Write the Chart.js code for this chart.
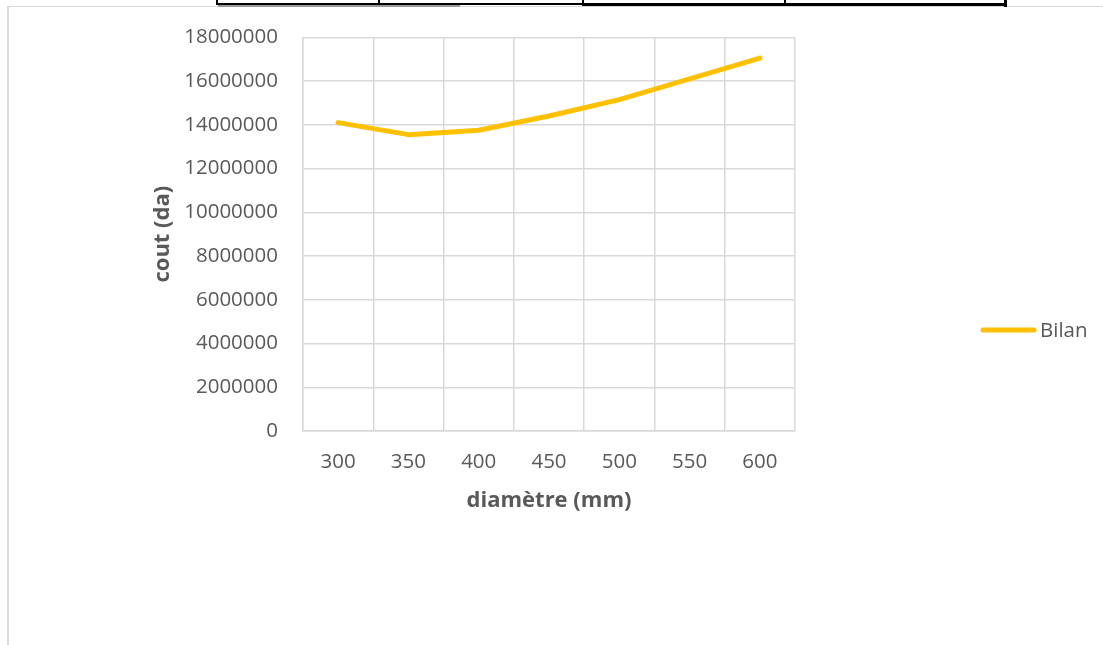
<!DOCTYPE html>
<html>
<head>
<meta charset="utf-8">
<script src="https://cdn.jsdelivr.net/npm/chart.js@4/dist/chart.umd.min.js"></script>
<style>
  html, body { margin: 0; padding: 0; background: #ffffff; }
  #wrap { position: relative; width: 1103px; height: 645px; overflow: hidden; }
  #chart { position: absolute; left: 0; top: 0; }
  .rule { position: absolute; }
</style>
</head>
<body>
<div id="wrap">
  <canvas id="chart" width="1103" height="645"></canvas>
  <!-- light frame around the chart object -->
  <div class="rule" style="left:7px; top:6px; width:1096px; height:1px; background:#d9d9d9;"></div>
  <div class="rule" style="left:7px; top:6px; width:2px; height:640px; background:#dcdcdc;"></div>
  <!-- bottom border of the table row above -->
  <div class="rule" style="left:217px; top:3px; width:366px; height:2px; background:#000;"></div>
  <div class="rule" style="left:583px; top:3px; width:424px; height:3px; background:#000;"></div>
  <div class="rule" style="left:218px; top:5px; width:242px; height:2px; background:#9a9a9a;"></div>
  <div class="rule" style="left:216px; top:0px; width:2px; height:5px; background:#000;"></div>
  <div class="rule" style="left:378px; top:0px; width:2px; height:5px; background:#000;"></div>
  <div class="rule" style="left:582px; top:0px; width:2px; height:6px; background:#000;"></div>
  <div class="rule" style="left:784px; top:0px; width:2px; height:6px; background:#000;"></div>
  <div class="rule" style="left:1004px; top:0px; width:3px; height:7px; background:#000;"></div>
</div>
<script>
// diameters (mm) and total cost (da)
const diametres = ['300', '350', '400', '450', '500', '550', '600'];
const bilan = [14100000, 13550000, 13750000, 14400000, 15150000, 16100000, 17050000];
const serieLabel = 'Bilan';
const yMin = 0;
const yMax = 18000000;
const yStep = 2000000;

const textColor = '#595959';
const gridColor = '#d9d9d9';
const lineColor = '#FFC000';
const family = "'Open Sans', 'Liberation Sans', sans-serif";

// legend drawn on the right, vertically centred like an Office chart legend
const sideLegend = {
  id: 'sideLegend',
  afterDraw(chart) {
    const ctx = chart.ctx;
    const ds = chart.data.datasets[0];
    const y = 330;
    ctx.save();
    ctx.strokeStyle = ds.borderColor;
    ctx.lineWidth = 5;
    ctx.lineCap = 'round';
    ctx.beginPath();
    ctx.moveTo(983, y);
    ctx.lineTo(1034, y);
    ctx.stroke();
    ctx.fillStyle = textColor;
    ctx.font = '20.5px ' + family;
    ctx.textBaseline = 'middle';
    ctx.textAlign = 'left';
    ctx.fillText(ds.label, 1040, y + 1);
    ctx.restore();
  }
};

new Chart(document.getElementById('chart'), {
  type: 'line',
  data: {
    labels: diametres,
    datasets: [{
      label: serieLabel,
      data: bilan,
      borderColor: lineColor,
      backgroundColor: lineColor,
      borderWidth: 5,
      borderCapStyle: 'round',
      borderJoinStyle: 'round',
      pointRadius: 0,
      tension: 0,
      fill: false
    }]
  },
  options: {
    responsive: false,
    animation: false,
    layout: { padding: { left: 150, right: 308, top: 35, bottom: 131 } },
    plugins: {
      legend: { display: false },
      tooltip: { enabled: false }
    },
    scales: {
      x: {
        type: 'category',
        offset: true,
        grid: { offset: true, color: gridColor, lineWidth: 1.5, drawTicks: false },
        border: { display: true, color: gridColor, width: 1.5 },
        ticks: { color: textColor, font: { family, size: 20.5 }, padding: 19, maxRotation: 0 },
        title: {
          display: true, text: 'diamètre (mm)', color: textColor,
          font: { family, size: 22, weight: 'bold' }, padding: { top: 0, bottom: 0 }
        },
        afterFit(s) { s.height = 83; }
      },
      y: {
        min: yMin,
        max: yMax,
        ticks: {
          stepSize: yStep, color: textColor, font: { family, size: 20.5 }, padding: 25,
          callback: v => String(v)
        },
        grid: { color: gridColor, lineWidth: 1.5, drawTicks: false },
        border: { display: true, color: gridColor, width: 1.5 },
        title: {
          display: true, text: 'cout (da)', color: textColor,
          font: { family, size: 22, weight: 'bold' }, padding: { top: 0, bottom: 0 }
        },
        afterFit(s) { s.width = 153; }
      }
    }
  },
  plugins: [sideLegend]
});
</script>
</body>
</html>
